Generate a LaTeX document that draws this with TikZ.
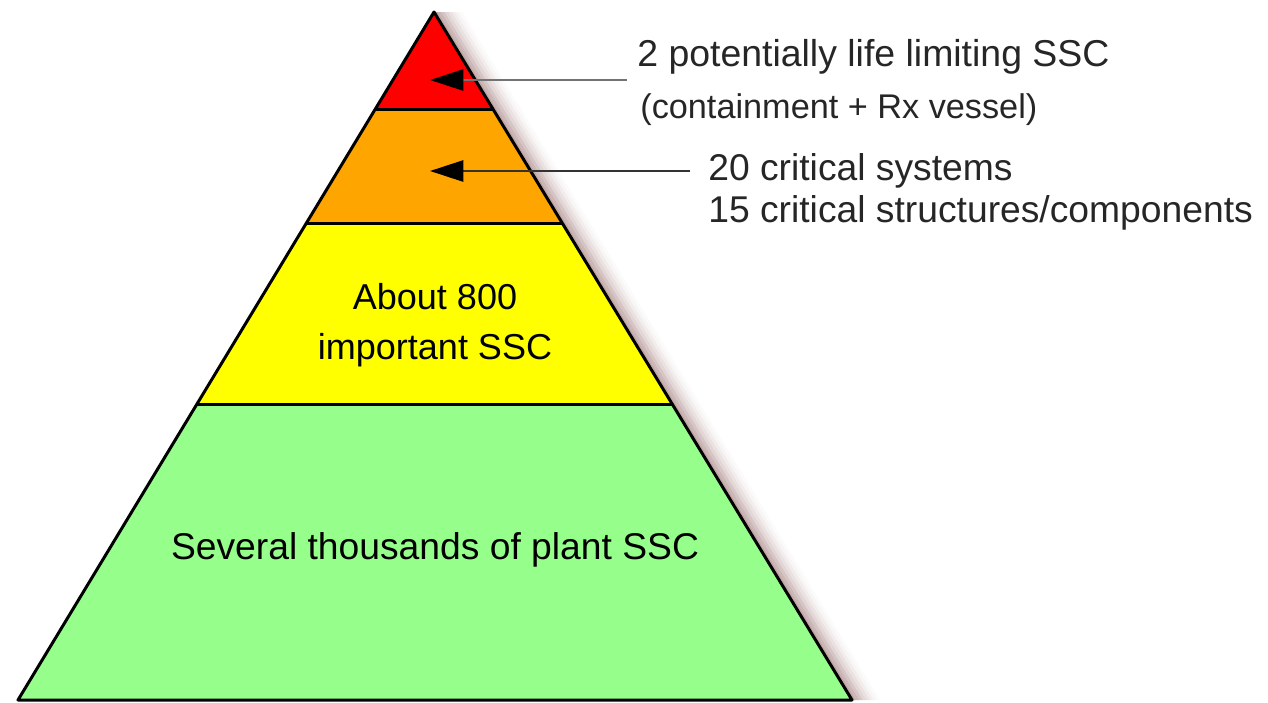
\documentclass[tikz,border=0pt]{standalone}
\usepackage{fontspec}
\setmainfont{Liberation Sans}
\usetikzlibrary{calc,arrows.meta}

\definecolor{topred}{RGB}{255,0,0}
\definecolor{critorange}{RGB}{255,165,0}
\definecolor{impyellow}{RGB}{255,255,0}
\definecolor{plantgreen}{RGB}{150,255,140}

\tikzset{
	layer/.style={draw=black, line width=1.7pt, line join=round},
	pointer/.style={line width=1.5pt, -{Triangle[length=19pt,width=12pt,black]}},
	sidetext/.style={anchor=west, inner sep=0pt, text=black!85},
	midtext/.style={align=center, inner sep=0pt},
}

\begin{document}
\begin{tikzpicture}[x=0.02cm, y=-0.02cm]
	\useasboundingbox (0,0) rectangle (1268,703);
	\coordinate (apex) at (434, 12);
	\coordinate (bl) at (18, 700);
	\coordinate (br) at (852, 700);
	% layer borders on both sides
	\coordinate (l1) at ($(apex)!0.1424!(bl)$);
	\coordinate (r1) at ($(apex)!0.1424!(br)$);
	\coordinate (l2) at ($(apex)!0.3081!(bl)$);
	\coordinate (r2) at ($(apex)!0.3081!(br)$);
	\coordinate (l3) at ($(apex)!0.5712!(bl)$);
	\coordinate (r3) at ($(apex)!0.5712!(br)$);
	% soft shadow on the right side
	\foreach \s/\o in {2/0.09, 4/0.08, 6/0.07, 8/0.06, 10/0.045, 12/0.035, 14/0.025, 16/0.015}
		\fill[black!70!red, opacity=\o] ([xshift=\s]apex) -- ([xshift=\s]br) -- (br) -- (apex) -- cycle;
	\fill[topred] (apex) -- (r1) -- (l1) -- cycle;
	\fill[critorange] (l1) -- (r1) -- (r2) -- (l2) -- cycle;
	\fill[impyellow] (l2) -- (r2) -- (r3) -- (l3) -- cycle;
	\fill[plantgreen] (l3) -- (r3) -- (br) -- (bl) -- cycle;
	\foreach \a/\b in {l1/r1, l2/r2, l3/r3}
		\draw[layer] (\a) -- (\b);
	\draw[layer] (apex) -- (br) -- (bl) -- cycle;
	% labels
	\node[midtext, font=\fontsize{20.5}{28.5}\selectfont] (imp) at (435, 325) {About 800\\important SSC};
	\node[midtext, font=\fontsize{21.2}{24}\selectfont] (plant) at (435, 550) {Several thousands of plant SSC};
	\node[sidetext, font=\fontsize{21.3}{24}\selectfont] (life) at (637, 57) {2 potentially life limiting SSC};
	\node[sidetext, font=\fontsize{19.5}{22}\selectfont] (vessel) at (640, 110) {(containment + Rx vessel)};
	\node[sidetext, font=\fontsize{21.2}{24}\selectfont] (crit) at (708, 171) {20 critical systems};
	\node[sidetext, font=\fontsize{21.2}{24}\selectfont] (struct) at (708, 213) {15 critical structures/components};
	% arrows into the top layers
	\coordinate (fromA) at (627, 80);
	\coordinate (tipA) at (430, 80);
	\coordinate (fromB) at (690, 171);
	\coordinate (tipB) at (430, 171);
	\draw[pointer, black!55] (fromA) -- (tipA);
	\draw[pointer, black!80] (fromB) -- (tipB);
\end{tikzpicture}
\end{document}
